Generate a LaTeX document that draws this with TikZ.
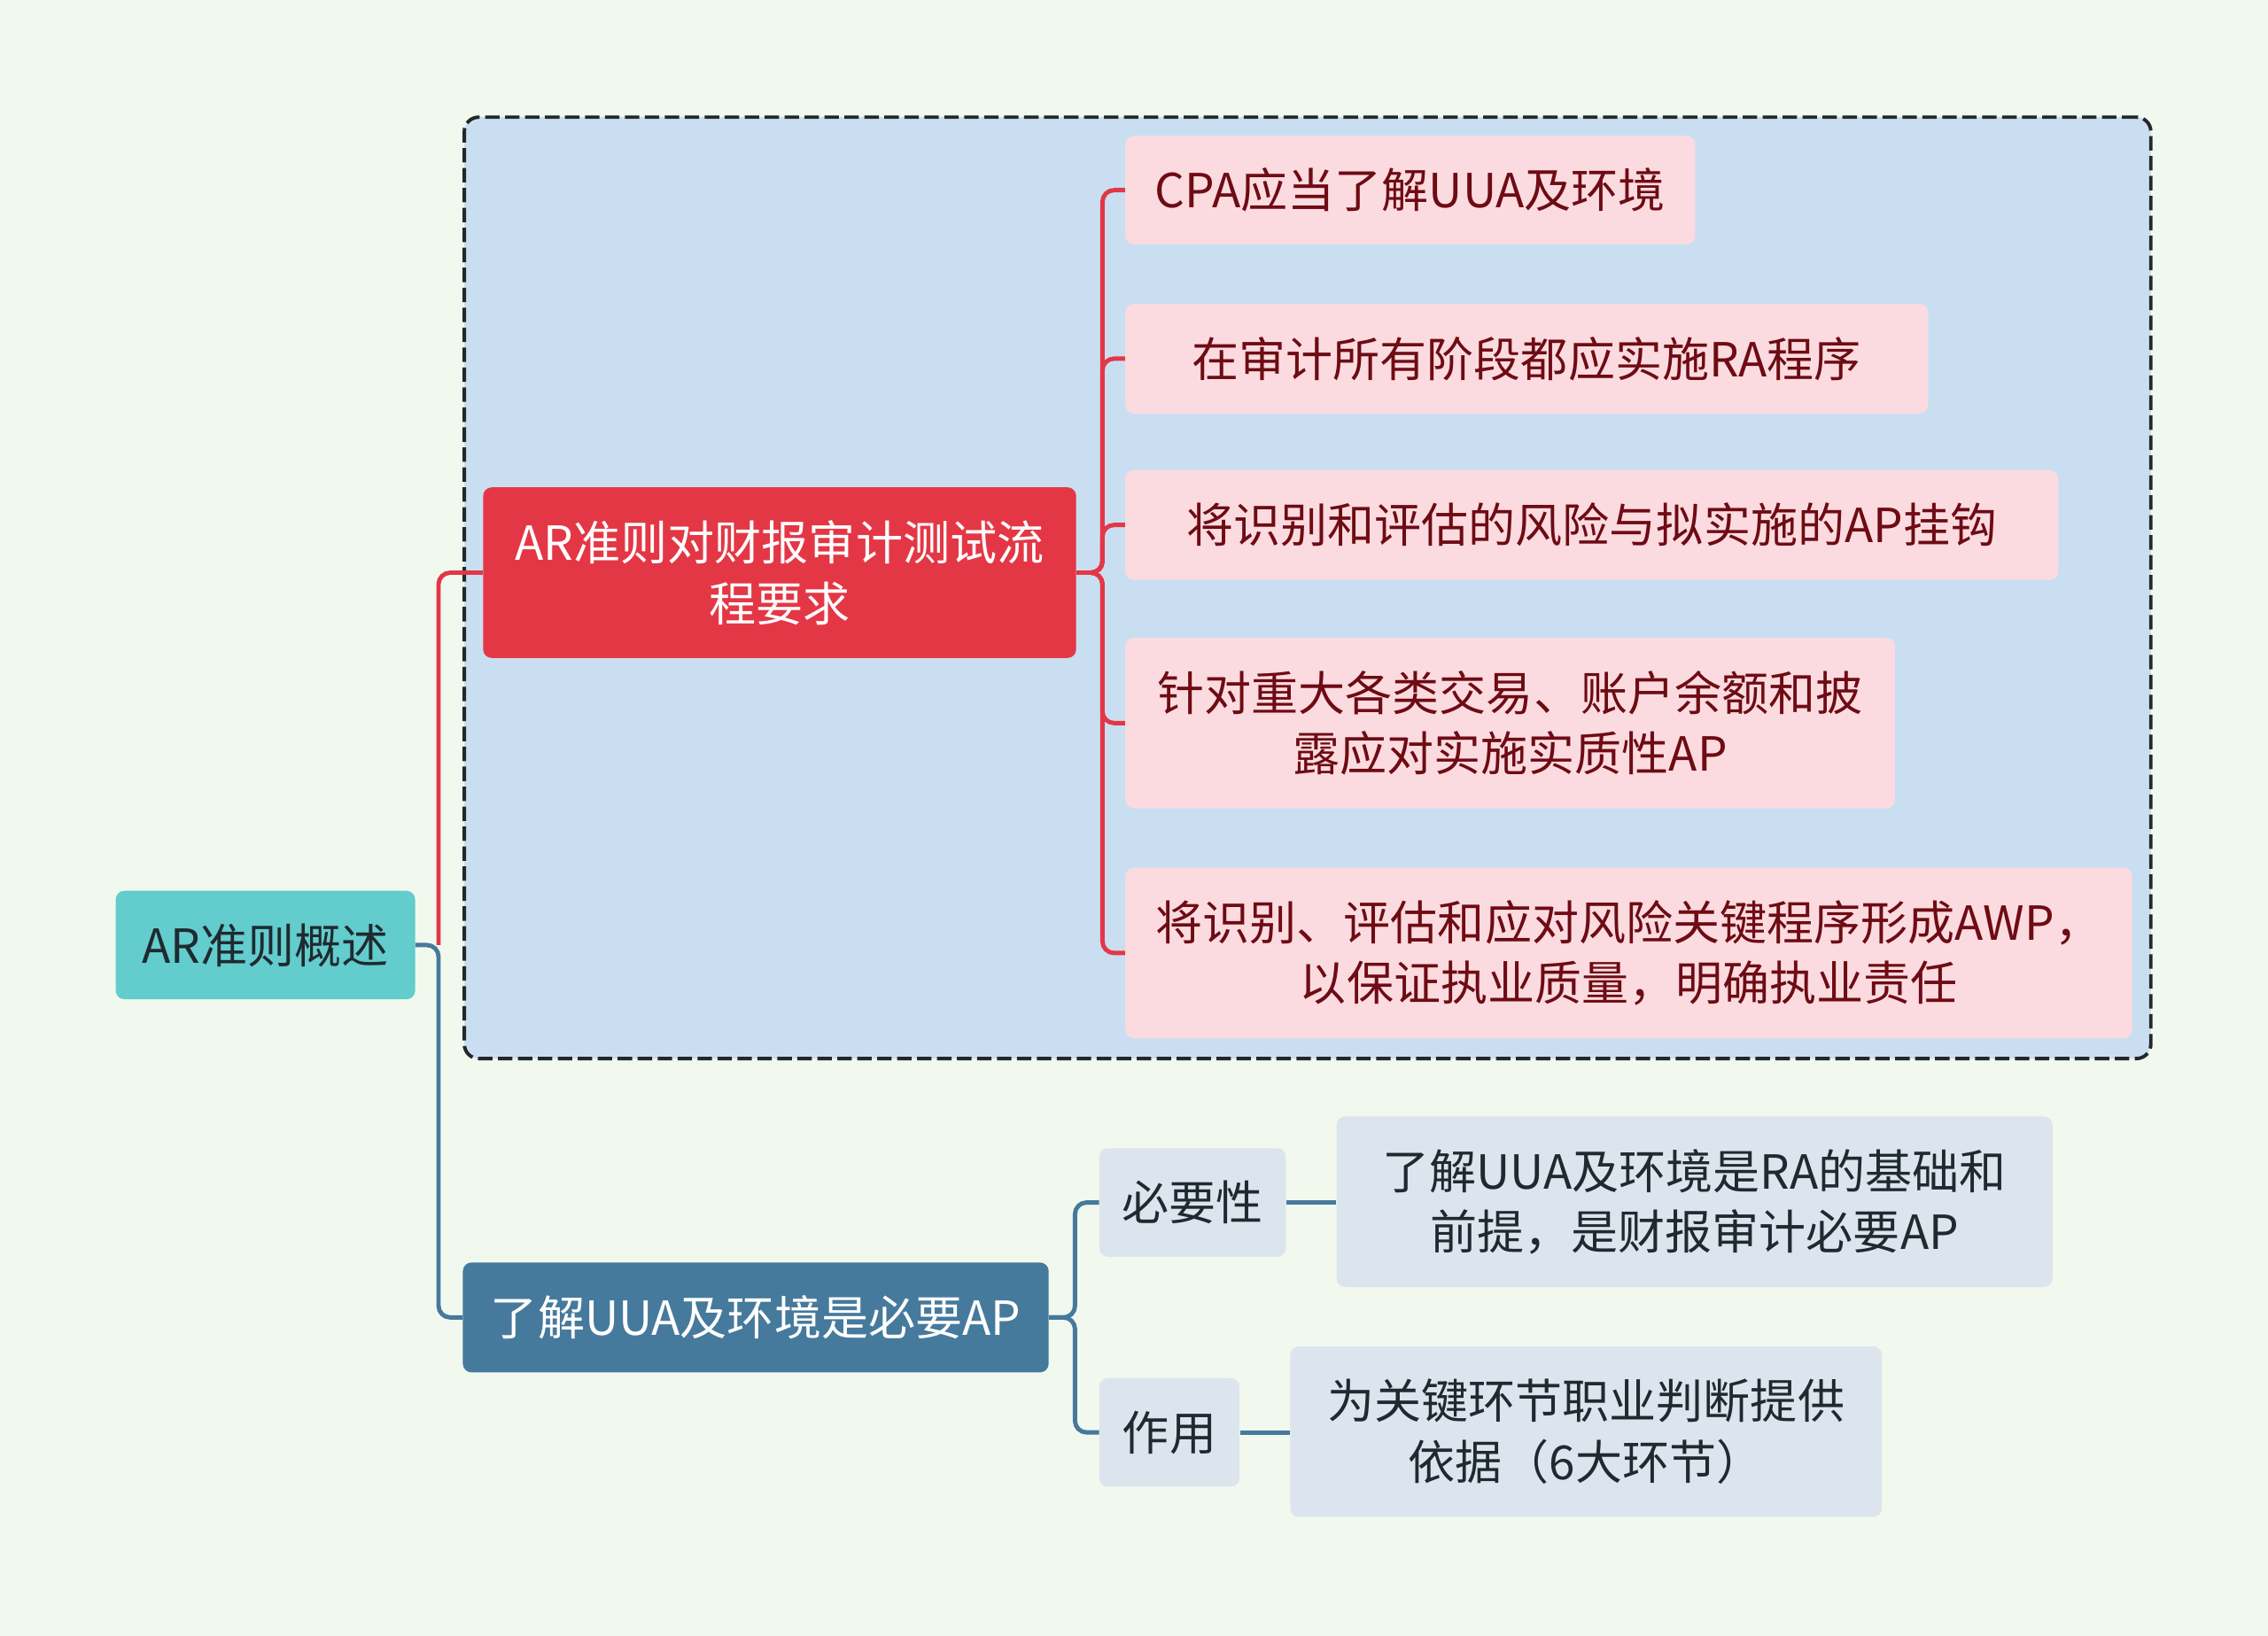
\documentclass[tikz,border=0pt]{standalone}
\usepackage{fontspec}
\setmainfont{Noto Sans CJK SC}
\definecolor{bgc}{HTML}{F1F9EF}
\definecolor{framefill}{HTML}{C9DFF1}
\definecolor{rootfill}{HTML}{63CCCC}
\definecolor{redc}{HTML}{E43746}
\definecolor{pinkc}{HTML}{FBDBDF}
\definecolor{darkred}{HTML}{6E0B14}
\definecolor{bluec}{HTML}{467A9C}
\definecolor{grayblue}{HTML}{DCE5ED}
\definecolor{darktxt}{HTML}{1F2A30}
\definecolor{framec}{HTML}{23272A}
\begin{document}
\begin{tikzpicture}[x=1pt,y=-1pt,
  box/.style={rounded corners=6pt, inner sep=0pt, align=center,
    font=\fontsize{32.5}{42}\selectfont},
  rootbox/.style={box, fill=rootfill, text=darktxt},
  redbox/.style={box, fill=redc, text=white},
  pinkbox/.style={box, fill=pinkc, text=darkred},
  bluebox/.style={box, fill=bluec, text=white},
  graybox/.style={box, fill=grayblue, text=darktxt},
  redline/.style={draw=redc, line width=3pt, rounded corners=8pt},
  blueline/.style={draw=bluec, line width=3pt, rounded corners=8pt},
]
\fill[bgc] (0,0) rectangle (1568,1131);
\useasboundingbox (0,0) rectangle (1568,1131);

\node[draw=framec, fill=framefill, dash pattern=on 10pt off 3.8pt, line width=2.4pt,
  rounded corners=10pt, minimum width=1166pt, minimum height=651pt, inner sep=0pt]
  (frame) at (904,406.5) {};

\node[rootbox, minimum width=207pt, minimum height=75pt] (root) at (183.5,653.5) {AR准则概述};
\node[redbox, minimum width=410pt, minimum height=118pt] (redn) at (539,396) {AR准则对财报审计测试流\\程要求};
\node[pinkbox, minimum width=394pt, minimum height=75pt] (p1) at (975,131.5) {CPA应当了解UUA及环境};
\node[pinkbox, minimum width=555pt, minimum height=76pt] (p2) at (1055.5,248) {在审计所有阶段都应实施RA程序};
\node[pinkbox, minimum width=645pt, minimum height=76pt] (p3) at (1100.5,363) {将识别和评估的风险与拟实施的AP挂钩};
\node[pinkbox, minimum width=532pt, minimum height=118pt] (p4) at (1044,500) {针对重大各类交易、账户余额和披\\露应对实施实质性AP};
\node[pinkbox, minimum width=696pt, minimum height=118pt] (p5) at (1126,659) {将识别、评估和应对风险关键程序形成AWP，\\以保证执业质量，明确执业责任};
\node[bluebox, minimum width=405pt, minimum height=76pt] (bluen) at (522.5,911) {了解UUA及环境是必要AP};
\node[graybox, minimum width=129pt, minimum height=75pt] (n1) at (824.5,831.5) {必要性};
\node[graybox, minimum width=495pt, minimum height=118pt] (d1) at (1171.5,831) {了解UUA及环境是RA的基础和\\前提，是财报审计必要AP};
\node[graybox, minimum width=97pt, minimum height=75pt] (n2) at (808.5,990.5) {作用};
\node[graybox, minimum width=409pt, minimum height=118pt] (d2) at (1096.5,990) {为关键环节职业判断提供\\依据（6大环节）};

% root connectors
\coordinate (rs) at ([xshift=16pt]root.east);
\draw[blueline] (root.east) -- (rs) |- (bluen.west);
\draw[redline] (rs) |- (redn.west);
% red connectors
\coordinate (rr) at ([xshift=18pt]redn.east);
\foreach \c in {p1,p2,p3,p4,p5}{
  \draw[redline] (redn.east) -- (rr) |- (\c.west);
}
% blue connectors
\coordinate (bb) at ([xshift=18pt]bluen.east);
\draw[blueline] (bluen.east) -- (bb) |- (n1.west);
\draw[blueline] (bluen.east) -- (bb) |- (n2.west);
\draw[blueline] (n1.east) -- (n1.east -| d1.west);
\draw[blueline] (n2.east) -- (n2.east -| d2.west);
\end{tikzpicture}
\end{document}
